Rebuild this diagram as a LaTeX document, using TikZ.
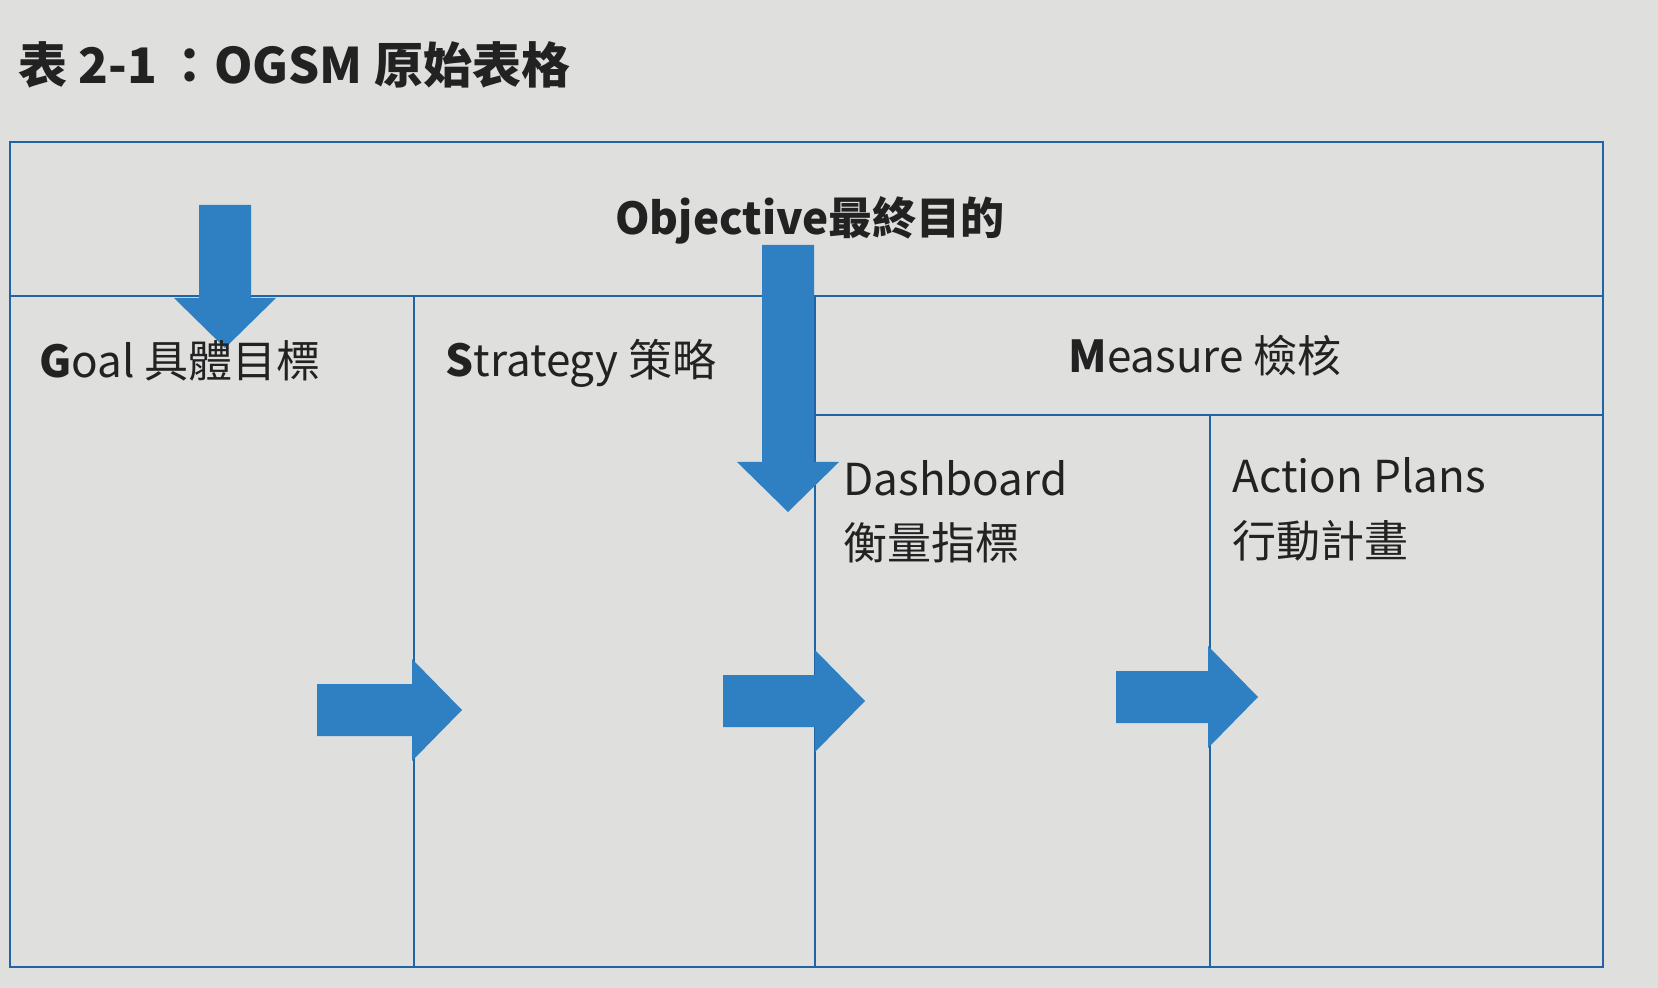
\documentclass[tikz,border=0pt]{standalone}
\usepackage{fontspec}
\setmainfont{Noto Sans CJK TC}
\usepackage{xcolor}
\usepackage{tikz}
\usetikzlibrary{positioning}
\definecolor{paper}{HTML}{DFDFDD}
\definecolor{lineblue}{HTML}{1F64A5}
\definecolor{arrowblue}{HTML}{2E80C2}
\definecolor{ink}{HTML}{222222}
\newcommand{\blockarrow}[4]{
  % tail centre (#1,#2), shaft length #3, direction #4
  \fill[arrowblue, shift={(#1,#2)}, rotate=#4] (0,-26) -- (#3,-26) -- (#3,-51) -- (#3+50,0) -- (#3,51) -- (#3,26) -- (0,26) -- cycle;
}
\tikzset{
  cell line/.style={draw=lineblue, line width=1.4pt},
  cell text/.style={inner sep=0pt, text=ink, font=\fontsize{22}{32}\selectfont}
}

\begin{document}
\begin{tikzpicture}[x=0.5pt, y=-0.5pt]
\fill[paper] (0,0) rectangle (1658,988);
\useasboundingbox (0,0) rectangle (1658,988);
\node[cell text, anchor=base west, font=\fontsize{24.5}{32}\selectfont\bfseries] (title) at (18,84) {表 2-1\,：OGSM 原始表格};
%the table
\draw[cell line] (10,142) rectangle (1603,967);
\draw[cell line] (10,296) -- (1603,296);
\draw[cell line] (815,415) -- (1603,415);
\foreach \x/\ytop in {414/296, 815/296, 1210/415} {
  \draw[cell line] (\x,\ytop) -- (\x,967);
}
%arrows
\blockarrow{225}{205}{93}{-90}
\blockarrow{788}{245}{217}{-90}
\foreach \x/\y/\len in {317/710/95, 723/701/92, 1116/697/92} {
  \blockarrow{\x}{\y}{\len}{0}
}
%cell labels
\node[cell text, anchor=base, font=\fontsize{22}{32}\selectfont\bfseries] (objective) at (810,235) {Objective最終目的};
\node[cell text, anchor=base west] (goal) at (39,378) {\textbf{G}oal 具體目標};
\node[cell text, anchor=base west] (strategy) at (445,377) {\textbf{S}trategy 策略};
\node[cell text, anchor=base] (measure) at (1205,373) {\textbf{M}easure 檢核};
\node[cell text, anchor=base west] (dashboard) at (843,495) {Dashboard};
\node[cell text, anchor=base west] (dashboardzh) at ([yshift=-32pt]dashboard.base west) {衡量指標};
\node[cell text, anchor=base west] (actions) at (1232,493) {Action Plans};
\node[cell text, anchor=base west] (actionszh) at ([yshift=-32pt]actions.base west) {行動計畫};
\end{tikzpicture}
\end{document}
